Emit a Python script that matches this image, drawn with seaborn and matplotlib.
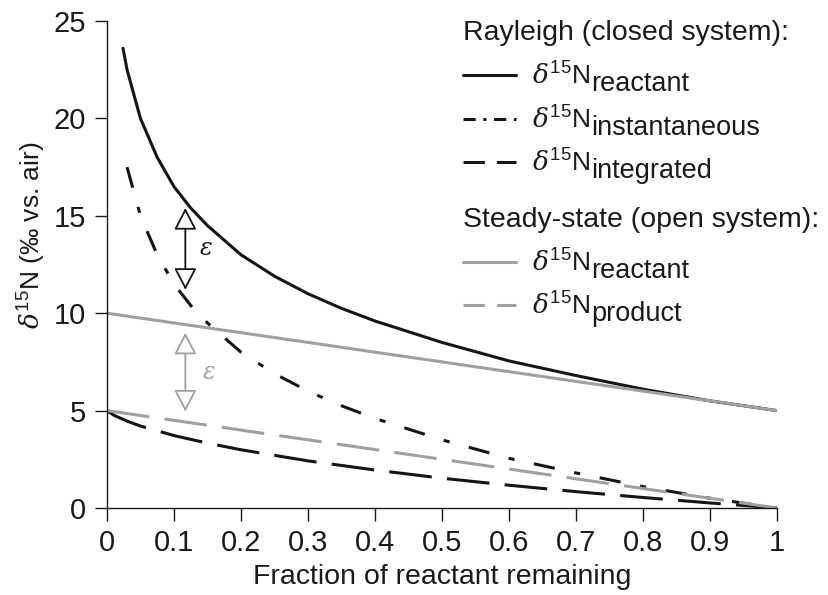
import matplotlib
matplotlib.use("Agg")
import matplotlib.pyplot as plt
from matplotlib.lines import Line2D
from matplotlib.transforms import IdentityTransform
import seaborn as sns

# ---- data ----
f_ray_reac = [0.024, 0.03, 0.05, 0.075, 0.1, 0.125, 0.15, 0.2, 0.25, 0.3, 0.35, 0.4, 0.5, 0.6, 0.7, 0.8, 0.9, 1.0]
d_ray_reac = [23.6, 22.5, 20.0, 18.0, 16.5, 15.4, 14.5, 13.0, 11.9, 11.0, 10.25, 9.6, 8.5, 7.55, 6.8, 6.1, 5.5, 5.0]

f_ray_inst = [0.03, 0.05, 0.075, 0.1, 0.125, 0.15, 0.2, 0.25, 0.3, 0.35, 0.4, 0.5, 0.6, 0.7, 0.8, 0.9, 1.0]
d_ray_inst = [17.5, 15.0, 13.0, 11.5, 10.4, 9.5, 8.0, 6.9, 6.0, 5.25, 4.6, 3.5, 2.55, 1.8, 1.1, 0.5, 0.0]

f_ray_int = [0.0, 0.01, 0.03, 0.05, 0.1, 0.15, 0.2, 0.3, 0.4, 0.5, 0.6, 0.7, 0.8, 0.9, 1.0]
d_ray_int = [5.0, 4.77, 4.46, 4.21, 3.72, 3.33, 2.99, 2.42, 1.95, 1.53, 1.17, 0.84, 0.54, 0.26, 0.0]

f_ss = [0.0, 0.5, 1.0]
d_ss_reac = [10.0, 7.5, 5.0]
d_ss_prod = [5.0, 2.5, 0.0]

# epsilon arrows: (x, y_bottom, y_top)
eps_black = (0.117, 11.2, 15.4)
eps_gray = (0.117, 4.95, 9.0)

x_ticks = [0, 0.1, 0.2, 0.3, 0.4, 0.5, 0.6, 0.7, 0.8, 0.9, 1]
x_ticklabels = ["0", "0.1", "0.2", "0.3", "0.4", "0.5", "0.6", "0.7", "0.8", "0.9", "1"]
y_ticks = [0, 5, 10, 15, 20, 25]

ray_title = "Rayleigh (closed system):"
ss_title = "Steady-state (open system):"
ray_subs = ["reactant", "instantaneous", "integrated"]
ss_subs = ["reactant", "product"]

GRAY = "#a0a0a0"
BLACK = "#151515"
TXT = "#1a1a1a"

sns.set_style("ticks")
plt.rcParams["font.family"] = ["Liberation Sans", "DejaVu Sans"]
plt.rcParams["text.color"] = TXT
plt.rcParams["axes.labelcolor"] = TXT
plt.rcParams["xtick.color"] = TXT
plt.rcParams["ytick.color"] = TXT
plt.rcParams["mathtext.fontset"] = "custom"
plt.rcParams["mathtext.rm"] = "Liberation Sans"
plt.rcParams["mathtext.sf"] = "Liberation Sans"
plt.rcParams["mathtext.it"] = "DejaVu Serif:italic"
plt.rcParams["mathtext.bf"] = "Liberation Sans:bold"

fig = plt.figure(figsize=(8.29, 5.95), dpi=100)
ax = fig.add_axes([0.129, 0.1462, 0.8083, 0.8185])

LW = 2.2
sns.lineplot(x=f_ray_reac, y=d_ray_reac, ax=ax, color=BLACK, lw=LW, estimator=None, sort=False)
sns.lineplot(x=f_ray_inst, y=d_ray_inst, ax=ax, color=BLACK, lw=LW, estimator=None, sort=False,
             linestyle=(0, (7, 6.5, 2, 6.5)))
sns.lineplot(x=f_ray_int, y=d_ray_int, ax=ax, color=BLACK, lw=LW, estimator=None, sort=False,
             linestyle=(0, (14, 5)))
sns.lineplot(x=f_ss, y=d_ss_reac, ax=ax, color=GRAY, lw=LW, estimator=None, sort=False)
sns.lineplot(x=f_ss, y=d_ss_prod, ax=ax, color=GRAY, lw=LW, estimator=None, sort=False,
             linestyle=(0, (14, 5)))

# epsilon arrows
for (xa, yb, yt), col in ((eps_black, BLACK), (eps_gray, GRAY)):
    ax.annotate("", xy=(xa, yt), xytext=(xa, yb),
                arrowprops=dict(arrowstyle="<|-|>,head_length=1.35,head_width=0.7",
                                fc="white", ec=col, lw=1.3, shrinkA=0, shrinkB=0,
                                mutation_scale=10))
ax.text(eps_black[0] + 0.022, (eps_black[1] + eps_black[2]) / 2, "ε", color=BLACK,
        fontsize=17, family="DejaVu Serif", style="italic", va="center", ha="left")
ax.text(eps_gray[0] + 0.026, (eps_gray[1] + eps_gray[2]) / 2, "ε", color=GRAY,
        fontsize=17, family="DejaVu Serif", style="italic", va="center", ha="left")

ax.set_xlim(0, 1)
ax.set_ylim(0, 25)
ax.set_xticks(x_ticks)
ax.set_xticklabels(x_ticklabels)
ax.set_yticks(y_ticks)
ax.tick_params(axis="both", direction="out", length=9, width=1.0, labelsize=21, pad=6)
sns.despine(ax=ax)
for s in ("left", "bottom"):
    ax.spines[s].set_linewidth(1.0)
    ax.spines[s].set_color(TXT)

ax.set_xlabel("Fraction of reactant remaining", fontsize=20.5, labelpad=5)
ax.set_ylabel(r"$\delta^{\rm 15}$N (‰ vs. air)", fontsize=19)
ax.yaxis.set_label_coords(-0.088, 0.56)

base = r"$\delta^{\rm 15}$N"
h1 = [Line2D([], [], color=BLACK, lw=LW),
      Line2D([], [], color=BLACK, lw=LW, linestyle=(0, (4, 2.5, 1, 2.5))),
      Line2D([], [], color=BLACK, lw=LW, linestyle=(0, (7, 4)))]
h2 = [Line2D([], [], color=GRAY, lw=LW),
      Line2D([], [], color=GRAY, lw=LW, linestyle=(0, (7, 4)))]

common = dict(loc="upper left", frameon=False, borderpad=0, borderaxespad=0,
              handlelength=2.0, handletextpad=0.6, labelspacing=0.62,
              fontsize=19, title_fontsize=20.5, alignment="left")
leg1 = ax.legend(h1, [base] * len(ray_subs), title=ray_title,
                 bbox_to_anchor=(0.532, 1.002), **common)
ax.add_artist(leg1)
leg2 = ax.legend(h2, [base] * len(ss_subs), title=ss_title,
                 bbox_to_anchor=(0.532, 0.619), **common)

# subscripts at nearly full size, like the reference
fig.canvas.draw()
renderer = fig.canvas.get_renderer()
for leg, subs in ((leg1, ray_subs), (leg2, ss_subs)):
    for t, sub in zip(leg.get_texts(), subs):
        bb = t.get_window_extent(renderer)
        fig.text(bb.x1 + 1, bb.y0 - 1.5, sub, transform=IdentityTransform(),
                 fontsize=19.5, va="baseline", ha="left", color=TXT)

fig.savefig("out.png", dpi=100)
